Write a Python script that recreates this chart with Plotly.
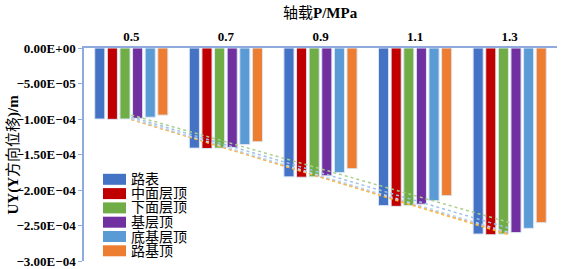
import numpy as np
import plotly.graph_objects as go

categories = ["0.5", "0.7", "0.9", "1.1", "1.3"]
series_names = ["路表", "中面层顶", "下面层顶", "基层顶", "底基层顶", "路基顶"]
v_lubiao = [-1.00e-4, -1.41e-4, -1.815e-4, -2.22e-4, -2.62e-4]
v_zhongmian = [-1.005e-4, -1.415e-4, -1.82e-4, -2.23e-4, -2.63e-4]
v_xiamian = [-1.00e-4, -1.41e-4, -1.815e-4, -2.22e-4, -2.62e-4]
v_jiceng = [-0.99e-4, -1.40e-4, -1.80e-4, -2.20e-4, -2.60e-4]
v_dijiceng = [-0.975e-4, -1.36e-4, -1.755e-4, -2.15e-4, -2.54e-4]
v_luji = [-0.945e-4, -1.32e-4, -1.70e-4, -2.08e-4, -2.46e-4]
series_values = [v_lubiao, v_zhongmian, v_xiamian, v_jiceng, v_dijiceng, v_luji]
bar_colors = ["#4472C4", "#C00000", "#70AD47", "#7030A0", "#5B9BD5", "#ED7D31"]
trend_colors = ["#A5A5A5", "#FFC000", "#F4B183", "#BDD7EE", "#9DC3E6", "#A9D18E"]
y_tickvals = [0, -5e-5, -1e-4, -1.5e-4, -2e-4, -2.5e-4, -3e-4]
y_ticktext = ["0.00E+00", "−5.00E−05", "−1.00E−04", "−1.50E−04", "−2.00E−04", "−2.50E−04", "−3.00E−04"]

serif = "Liberation Serif, Times New Roman, serif"
cjk = "Liberation Serif, Noto Sans CJK SC, serif"

W, H = 566, 269
ML, MR, MT, MB = 84, 9, 48, 8
PW, PH = W - ML - MR, H - MT - MB

fig = go.Figure()
for name, vals, col in zip(series_names, series_values, bar_colors):
    fig.add_trace(go.Bar(x=categories, y=vals, name=name, showlegend=False,
                         marker=dict(color=col, line=dict(color="#DDE6F4", width=1))))

idx = np.arange(len(categories))
for vals, col in zip(series_values, trend_colors):
    k, b = np.polyfit(idx, vals, 1)
    fig.add_trace(go.Scatter(x=categories, y=list(k * idx + b), mode="lines", showlegend=False,
                             line=dict(color=col, width=1.5, dash="dot"), hoverinfo="skip"))

fig.update_layout(
    width=W, height=H,
    margin=dict(l=ML, r=MR, t=MT, b=MB),
    plot_bgcolor="white", paper_bgcolor="white",
    barmode="group", bargap=0.2, bargroupgap=0.2,
    font=dict(family=cjk, size=13, color="black"),
    xaxis=dict(side="top", type="category", showline=True, linecolor="#8FAADC", linewidth=1.5,
               ticks="", tickfont=dict(family=serif, size=13, weight="bold"), showgrid=False,
               automargin=False),
    yaxis=dict(range=[-3e-4, 0], tickvals=y_tickvals, ticktext=y_ticktext, showgrid=False, zeroline=False,
               showline=True, linecolor="#8FAADC", linewidth=1.5, ticks="outside", ticklen=4, tickcolor="#8FAADC",
               tickfont=dict(family=serif, size=13, weight="bold"), automargin=False,
               ticklabeloverflow="allow"),
)

# axis titles
fig.add_annotation(text="轴载<b>P/MPa</b>", xref="paper", yref="paper",
                   x=0.5, y=(H - MB - 13) / PH, xanchor="center", yanchor="middle", showarrow=False,
                   font=dict(size=15, family=cjk))
fig.add_annotation(text="<b>UY(Y</b>方向位移<b>)/m</b>", textangle=-90, xref="paper", yref="paper",
                   x=(13 - ML) / PW, y=0.5, xanchor="center", yanchor="middle", showarrow=False,
                   font=dict(size=15, family=cjk))

# legend (swatches + labels)
lx0, ly0, step = 103, 179.3, 14.3
for i, (name, col) in enumerate(zip(series_names, bar_colors)):
    cy = ly0 + i * step
    fig.add_shape(type="rect", xref="paper", yref="paper",
                  x0=(lx0 - ML) / PW, x1=(lx0 + 23 - ML) / PW,
                  y0=(H - MB - (cy + 5.5)) / PH, y1=(H - MB - (cy - 5.5)) / PH,
                  fillcolor=col, line=dict(width=0))
    fig.add_annotation(text=name, xref="paper", yref="paper",
                       x=(lx0 + 26 - ML) / PW, y=(H - MB - cy) / PH, xanchor="left", yanchor="middle",
                       showarrow=False, font=dict(size=14, family=cjk))

fig.write_html("out.html", config={"displayModeBar": False},
               post_script="document.body.style.margin='0';document.body.style.overflow='hidden';")
